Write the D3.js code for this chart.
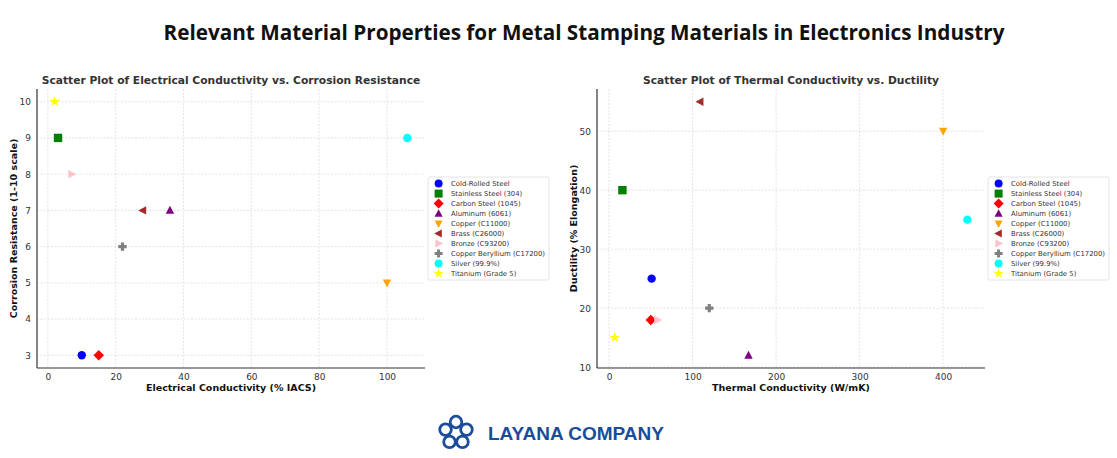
<!DOCTYPE html>
<html>
<head>
<meta charset="utf-8">
<script src="https://cdn.jsdelivr.net/npm/d3@7"></script>
<style>
  body { margin: 0; background: #fff; }
  svg { display: block; }
</style>
</head>
<body>
<svg id="chart" width="1117" height="458"></svg>
<script>
// materials, in legend order
const materials = ["Cold-Rolled Steel", "Stainless Steel (304)", "Carbon Steel (1045)", "Aluminum (6061)",
  "Copper (C11000)", "Brass (C26000)", "Bronze (C93200)", "Copper Beryllium (C17200)", "Silver (99.9%)", "Titanium (Grade 5)"];
const colors = ["#0000ff", "#008000", "#ff0000", "#800080", "#ffa500", "#a52a2a", "#ffc0cb", "#808080", "#00ffff", "#ffff00"];
const shapes = ["circle", "square", "diamond", "up", "down", "left", "right", "plus", "circle", "star"];

const electrical = [10, 3, 15, 36, 100, 28, 7, 22, 106, 2];   // % IACS
const corrosion = [3, 9, 3, 7, 5, 7, 8, 6, 9, 10];             // 1-10 scale
const thermal = [51, 16, 50, 167, 400, 109, 58, 120, 429, 6.7]; // W/mK
const ductility = [25, 40, 18, 12, 50, 55, 18, 20, 35, 15];    // % elongation

const ticksLeftX = [0, 20, 40, 60, 80, 100];
const ticksLeftY = [3, 4, 5, 6, 7, 8, 9, 10];
const ticksRightX = [0, 100, 200, 300, 400];
const ticksRightY = [10, 20, 30, 40, 50];

const svg = d3.select("#chart");
const font = "DejaVu Sans, sans-serif";

svg.append("text")
  .attr("x", 584).attr("y", 40)
  .attr("text-anchor", "middle")
  .style("font-family", "'Open Sans', sans-serif")
  .style("font-weight", 700)
  .style("font-size", "20.7px")
  .attr("fill", "#111")
  .text("Relevant Material Properties for Metal Stamping Materials in Electronics Industry");

function symbolPath(shape, s) {
  // s ~ half size in px
  switch (shape) {
    case "circle": return d3.symbol(d3.symbolCircle, Math.PI * s * s)();
    case "square": return `M${-s},${-s}H${s}V${s}H${-s}Z`;
    case "diamond": { const d = s * 1.25; return `M0,${-d}L${d},0L0,${d}L${-d},0Z`; }
    case "up": return `M0,${-s * 1.1}L${s},${s * 0.8}L${-s},${s * 0.8}Z`;
    case "down": return `M0,${s * 1.1}L${s},${-s * 0.8}L${-s},${-s * 0.8}Z`;
    case "left": return `M${-s * 1.1},0L${s * 0.8},${-s}L${s * 0.8},${s}Z`;
    case "right": return `M${s * 1.1},0L${-s * 0.8},${-s}L${-s * 0.8},${s}Z`;
    case "plus": { const a = s, b = s * 0.38; return `M${-b},${-a}H${b}V${-b}H${a}V${b}H${b}V${a}H${-b}V${b}H${-a}V${-b}H${-b}Z`; }
    case "star": return d3.symbol(d3.symbolStar, s * s * 1.9)();
  }
}

function pad(ext) {
  const r = ext[1] - ext[0];
  return [ext[0] - r * 0.05, ext[1] + r * 0.05];
}

function drawPanel(opt) {
  const g = svg.append("g");
  const x = d3.scaleLinear().domain(pad(d3.extent(opt.xs))).range([opt.left, opt.right]);
  const y = d3.scaleLinear().domain(pad(d3.extent(opt.ys))).range([opt.bottom, opt.top]);

  // grid
  g.append("g").selectAll("line").data(opt.xt).join("line")
    .attr("x1", d => x(d)).attr("x2", d => x(d))
    .attr("y1", opt.top).attr("y2", opt.bottom)
    .attr("stroke", "#d8d8d8").attr("stroke-width", 0.7).attr("stroke-dasharray", "2,1.5");
  g.append("g").selectAll("line").data(opt.yt).join("line")
    .attr("y1", d => y(d)).attr("y2", d => y(d))
    .attr("x1", opt.left).attr("x2", opt.right)
    .attr("stroke", "#d8d8d8").attr("stroke-width", 0.7).attr("stroke-dasharray", "2,1.5");

  // axes
  const ax = g.append("g").attr("transform", `translate(0,${opt.bottom})`)
    .call(d3.axisBottom(x).tickValues(opt.xt).tickSize(0).tickPadding(6));
  const ay = g.append("g").attr("transform", `translate(${opt.left},0)`)
    .call(d3.axisLeft(y).tickValues(opt.yt).tickSize(0).tickPadding(6));
  [ax, ay].forEach(a => {
    a.select(".domain").attr("stroke", "#333").attr("stroke-width", 1.2);
    a.selectAll("text").style("font-family", font).style("font-size", "9px").attr("fill", "#333");
  });
  ax.select(".domain").attr("d", `M${opt.left},0H${opt.right}`);
  ay.select(".domain").attr("d", `M0,${opt.bottom}V${opt.top}`);

  // titles
  g.append("text").attr("x", (opt.left + opt.right) / 2).attr("y", 84)
    .attr("text-anchor", "middle").style("font-family", font).style("font-weight", "bold")
    .style("font-size", "10.7px").attr("fill", "#333").text(opt.title);
  g.append("text").attr("x", (opt.left + opt.right) / 2).attr("y", 391)
    .attr("text-anchor", "middle").style("font-family", font).style("font-weight", "bold")
    .style("font-size", "9.5px").attr("fill", "#111").text(opt.xlabel);
  g.append("text").attr("transform", `translate(${opt.ylabelX},${(opt.top + opt.bottom) / 2}) rotate(-90)`)
    .attr("text-anchor", "middle").style("font-family", font).style("font-weight", "bold")
    .style("font-size", "9.5px").attr("fill", "#111").text(opt.ylabel);

  // points
  g.append("g").selectAll("path").data(materials).join("path")
    .attr("transform", (d, i) => `translate(${x(opt.xs[i])},${y(opt.ys[i])})`)
    .attr("d", (d, i) => symbolPath(shapes[i], 4.2))
    .attr("fill", (d, i) => colors[i]);

  // legend
  const lg = g.append("g").attr("transform", `translate(${opt.legendX},177)`);
  lg.append("rect").attr("width", 121).attr("height", 103).attr("rx", 2)
    .attr("fill", "#fff").attr("stroke", "#ddd").attr("stroke-width", 0.8);
  const items = lg.selectAll("g").data(materials).join("g")
    .attr("transform", (d, i) => `translate(0,${6.6 + i * 10})`);
  items.append("path").attr("transform", "translate(10.6,0)")
    .attr("d", (d, i) => symbolPath(shapes[i], 4))
    .attr("fill", (d, i) => colors[i]);
  items.append("text").attr("x", 23).attr("dy", "0.35em")
    .style("font-family", font).style("font-size", "6.9px").attr("fill", "#333").text(d => d);
}

drawPanel({
  xs: electrical, ys: corrosion, xt: ticksLeftX, yt: ticksLeftY,
  left: 37, right: 425, top: 89, bottom: 368, legendX: 428, ylabelX: 17,
  title: "Scatter Plot of Electrical Conductivity vs. Corrosion Resistance",
  xlabel: "Electrical Conductivity (% IACS)", ylabel: "Corrosion Resistance (1-10 scale)"
});
drawPanel({
  xs: thermal, ys: ductility, xt: ticksRightX, yt: ticksRightY,
  left: 597, right: 985, top: 89, bottom: 368, legendX: 988, ylabelX: 577,
  title: "Scatter Plot of Thermal Conductivity vs. Ductility",
  xlabel: "Thermal Conductivity (W/mK)", ylabel: "Ductility (% Elongation)"
});

// logo
const blue = "#1b4c9c";
const logo = svg.append("g").attr("transform", "translate(456,433)");
d3.range(5).forEach(i => {
  const a = -Math.PI / 2 + i * 2 * Math.PI / 5;
  logo.append("circle").attr("cx", 11 * Math.cos(a)).attr("cy", 11 * Math.sin(a))
    .attr("r", 5.8).attr("fill", "none").attr("stroke", blue).attr("stroke-width", 2.8);
});
svg.append("text").attr("x", 488).attr("y", 440)
  .style("font-family", "'Liberation Sans', Arial, sans-serif").style("font-weight", "bold")
  .style("font-size", "19px").attr("fill", blue).text("LAYANA COMPANY");
</script>
</body>
</html>
